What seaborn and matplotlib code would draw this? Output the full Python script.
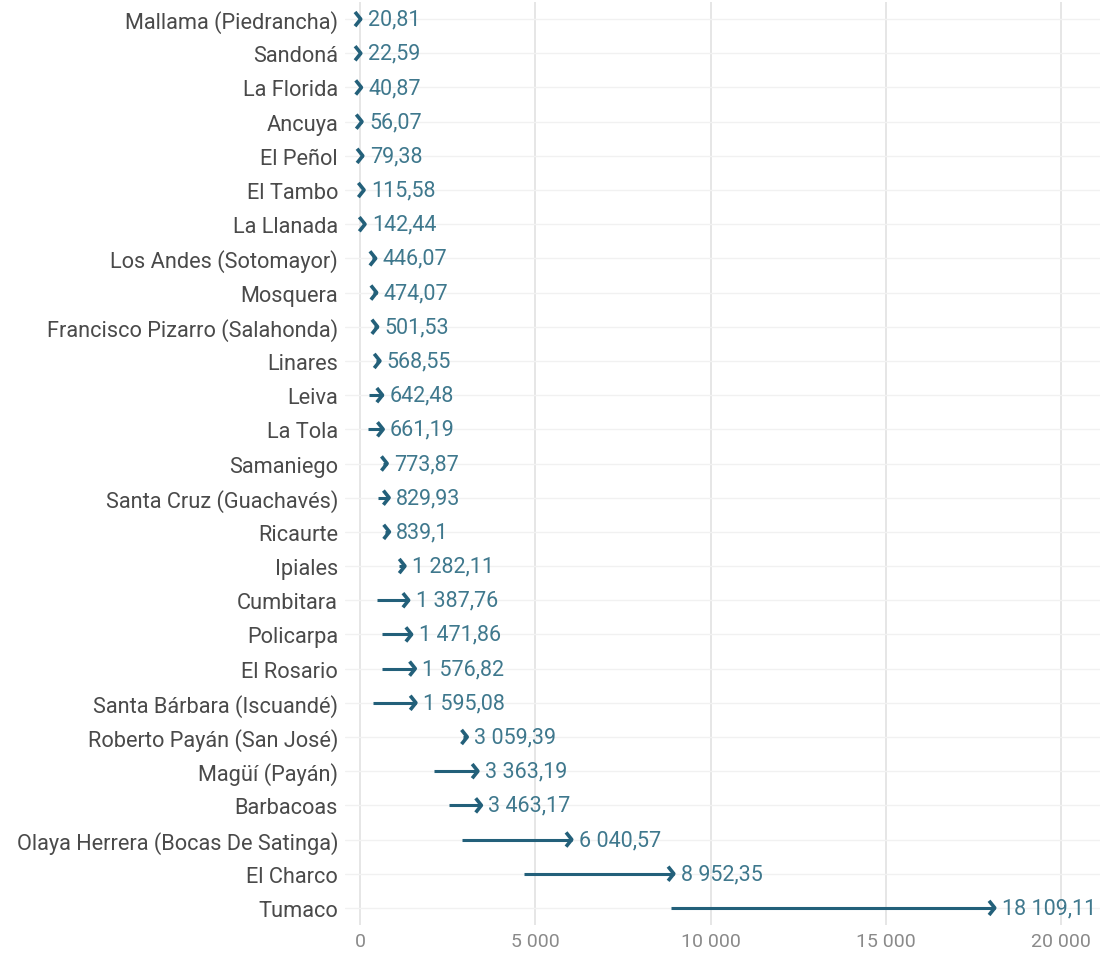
import matplotlib
matplotlib.use("Agg")
import matplotlib.pyplot as plt
from matplotlib.path import Path
from matplotlib.markers import MarkerStyle
import seaborn as sns
import pandas as pd

municipios = [
    "Mallama (Piedrancha)", "Sandoná", "La Florida", "Ancuya", "El Peñol",
    "El Tambo", "La Llanada", "Los Andes (Sotomayor)", "Mosquera",
    "Francisco Pizarro (Salahonda)", "Linares", "Leiva", "La Tola", "Samaniego",
    "Santa Cruz (Guachavés)", "Ricaurte", "Ipiales", "Cumbitara", "Policarpa",
    "El Rosario", "Santa Bárbara (Iscuandé)", "Roberto Payán (San José)",
    "Magüí (Payán)", "Barbacoas", "Olaya Herrera (Bocas De Satinga)",
    "El Charco", "Tumaco",
]
valor_final = [
    20.81, 22.59, 40.87, 56.07, 79.38, 115.58, 142.44, 446.07, 474.07,
    501.53, 568.55, 642.48, 661.19, 773.87, 829.93, 839.1, 1282.11,
    1387.76, 1471.86, 1576.82, 1595.08, 3059.39, 3363.19, 3463.17,
    6040.57, 8952.35, 18109.11,
]
valor_inicial = [
    0, 0, 10, 20, 40, 80, 100, 350, 380, 400, 450, 260, 230, 650, 520,
    700, 1100, 490, 630, 630, 380, 2950, 2110, 2540, 2910, 4680, 8870,
]
xticks = [0, 5000, 10000, 15000, 20000]

df = pd.DataFrame({"municipio": municipios, "inicio": valor_inicial,
                   "fin": valor_final})
df["pos"] = range(len(df))

sns.set_theme(style="white")
plt.rcParams["font.family"] = ["Roboto", "DejaVu Sans"]

W, H = 1104, 962
fig = plt.figure(figsize=(W / 100, H / 100), dpi=100)
ax = fig.add_axes([345 / W, 1 - 926 / H, (1100 - 345) / W, (926 - 3) / H])

arrow_c = "#23607a"
label_c = "#3f788d"

for x in xticks:
    ax.axvline(x, color="#e2e2e2", lw=1.2, zorder=0)
for y in df["pos"]:
    ax.axhline(y, color="#f1f1f1", lw=1.0, zorder=0)

ax.hlines(df["pos"], df["inicio"], df["fin"], color=arrow_c, lw=2.2, zorder=2)

chev = Path([(-0.8, 1.0), (0.0, 0.0), (-0.8, -1.0)],
            [Path.MOVETO, Path.LINETO, Path.LINETO])
sns.scatterplot(data=df, x="fin", y="pos", marker=MarkerStyle(chev),
                s=105, facecolor="none", edgecolor=arrow_c, linewidth=2.6,
                ax=ax, zorder=3, legend=False)


def fmt(v):
    s = f"{v:,.2f}".rstrip("0").rstrip(".")
    return s.replace(",", " ").replace(".", ",")


for _, r in df.iterrows():
    ax.annotate(fmt(r["fin"]), (r["fin"], r["pos"]), xytext=(5, 0),
                textcoords="offset points", va="center", ha="left",
                fontsize=15.5, color=label_c)

ax.set_xlim(-428, 21112)
ax.set_ylim(len(df) - 0.5, -0.5)
ax.set_yticks(df["pos"])
ax.set_yticklabels(df["municipio"], fontsize=15.7, color="#4a4a4a")
ax.set_xticks(xticks)
ax.set_xticklabels([f"{t:,}".replace(",", " ") for t in xticks],
                   fontsize=14, color="#8a8a8a")
ax.tick_params(axis="y", length=0, pad=5)
ax.tick_params(axis="x", length=0, pad=5)
ax.set_xlabel("")
ax.set_ylabel("")
for s in ax.spines.values():
    s.set_visible(False)

fig.savefig("out.png", dpi=100, facecolor="white")
